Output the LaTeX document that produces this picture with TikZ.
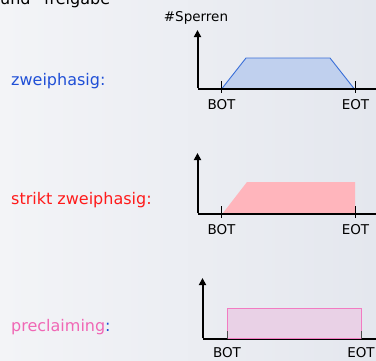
\documentclass[tikz,border=0pt]{standalone}
\usepackage{fontspec}
\setmainfont{DejaVu Sans}
\usetikzlibrary{arrows.meta}
\definecolor{bgl}{HTML}{F3F4F7}
\definecolor{bgr}{HTML}{E4E7EE}
\definecolor{lblue}{HTML}{1F4FD6}
\definecolor{lred}{HTML}{FF1A1A}
\definecolor{lpink}{HTML}{F067B5}
\definecolor{trapfill}{HTML}{C0D0EE}
\definecolor{trapline}{HTML}{3A6FD8}
\definecolor{strfill}{HTML}{FFB5BC}
\definecolor{prefill}{HTML}{E9D1E6}
\definecolor{preline}{HTML}{F27BC2}
\tikzset{
  axis/.style={line width=2pt,-{Triangle[width=7pt,length=7pt]}},
  xaxis/.style={line width=2pt},
  tick/.style={line width=1pt},
  small/.style={font=\fontsize{13.5}{15}\selectfont,inner sep=0pt,anchor=base,text=black},
  lbl/.style={font=\fontsize{16}{18}\selectfont,inner sep=0pt,anchor=base west},
}
\begin{document}
\begin{tikzpicture}[x=1pt,y=-1pt]
\useasboundingbox (0,0) rectangle (376,360);
\clip (0,0) rectangle (376,360);
\shade[left color=bgl,right color=bgr] (0,0) rectangle (376,360);
\node[lbl,text=black] (title) at (0,4) {und "freigabe"};
% chart 1
\node[small] (ylab) at (196,21.5) {\#Sperren};
\coordinate (o1) at (197.5,89);
\coordinate (t1) at (197.5,30);
\coordinate (e1) at (380,89);
\fill[trapfill,draw=trapline,line width=0.9pt] (222,88.5) -- (246,58) -- (330,58) -- (354,88.5) -- cycle;
\draw[xaxis] (o1) -- (e1);
\draw[axis] ([yshift=1pt]o1) -- (t1);
\coordinate (b1a) at (221.5,81); \coordinate (b1b) at (221.5,93);
\coordinate (c1a) at (355.5,81); \coordinate (c1b) at (355.5,93);
\draw[tick] (b1a) -- (b1b);
\draw[tick] (c1a) -- (c1b);
\node[small] (bot1) at (221.5,109) {BOT};
\node[small] (eot1) at (355.5,109) {EOT};
\node[lbl,text=lblue] (l1) at (11,85) {zweiphasig:};
% chart 2
\coordinate (o2) at (197.5,213.5);
\coordinate (t2) at (197.5,153);
\coordinate (e2) at (380,213.5);
\fill[strfill] (223,213) -- (247,182) -- (355,182) -- (355,213) -- cycle;
\draw[xaxis] (o2) -- (e2);
\draw[axis] ([yshift=1pt]o2) -- (t2);
\coordinate (b2a) at (221.5,206); \coordinate (b2b) at (221.5,218);
\coordinate (c2a) at (355.5,206); \coordinate (c2b) at (355.5,218);
\draw[tick] (b2a) -- (b2b);
\draw[tick] (c2a) -- (c2b);
\node[small] (bot2) at (221.5,234) {BOT};
\node[small] (eot2) at (355.5,234) {EOT};
\node[lbl,text=lred] (l2) at (11,204) {strikt zweiphasig:};
% chart 3
\coordinate (o3) at (202.5,339);
\coordinate (t3) at (202.5,278);
\coordinate (e3) at (380,339);
\draw[xaxis] (o3) -- (e3);
\draw[axis] ([yshift=1pt]o3) -- (t3);
\coordinate (b3a) at (227,331); \coordinate (b3b) at (227,339);
\coordinate (c3a) at (361,331); \coordinate (c3b) at (361,339);
\fill[prefill,draw=preline,line width=0.9pt] (227,338) rectangle (361,308.5);
\draw[tick,black!70] (b3a) -- (b3b);
\draw[tick,black!70] (c3a) -- (c3b);
\node[small] (bot3) at (227,357) {BOT};
\node[small] (eot3) at (361,357) {EOT};
\node[lbl] (l3) at (11,331.5) {\textcolor{lpink}{preclaiming}\textcolor{lblue}{:}};
\end{tikzpicture}
\end{document}
